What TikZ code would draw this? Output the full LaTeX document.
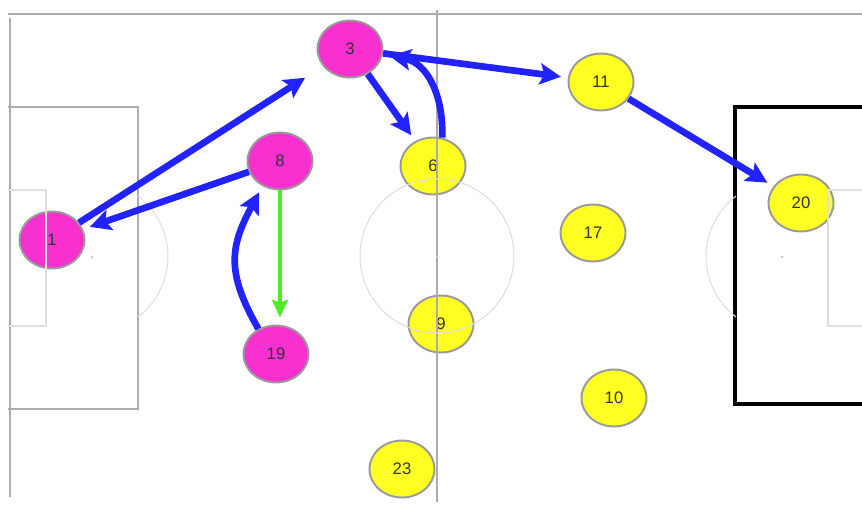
\documentclass[tikz,border=0pt]{standalone}
\usepackage{fontspec}
\setmainfont{Liberation Sans}
\usetikzlibrary{arrows.meta,shapes.geometric}
\definecolor{mag}{RGB}{248,48,208}
\definecolor{yel}{RGB}{255,255,34}
\definecolor{passblue}{RGB}{34,34,255}
\definecolor{passgreen}{RGB}{80,235,40}

\begin{document}
\begin{tikzpicture}[x=0.02cm,y=-0.02cm,
    player/.style={ellipse,draw=gray!80,line width=1.1pt,minimum width=1.3cm,minimum height=1.14cm,inner sep=0pt,text=black!80,font=\fontsize{9.5}{11}\selectfont},
    pitch/.style={gray!65,line width=1.1pt},
    faint/.style={gray!25,line width=0.6pt},
    pass/.style={passblue,line width=3.8pt,-{Stealth[length=12pt,width=12pt,inset=2.5pt]},shorten >=4pt}]
        \useasboundingbox (0,0) rectangle (862,507);
        \foreach \n/\x/\y/\c in {1/52/240/mag,3/350/49/mag,8/280/161/mag,19/276/354/mag,6/433/166/yel,11/601/82/yel,17/593/233/yel,9/441/324/yel,10/614/398/yel,20/801/203/yel,23/402/469/yel} {
            \node [player,fill=\c] (p\n) at (\x,\y) {\n}; % players
        }
        \draw[pitch] (8,14) -- (862,14); % touchline
        \draw[pitch] (10,18) -- (10,497); % goal line
        \draw[pitch] (437,10) -- (437,502); % halfway line
        \draw[pitch] (8,107) -- (138,107) -- (138,409) -- (8,409); % left penalty box
        \draw[black,line width=2.2pt] (862,107) -- (735,107) -- (735,404) -- (862,404); % right penalty box
        \draw[faint] (8,190) -- (46,190) -- (46,326) -- (8,326);
        \draw[faint] (862,190) -- (828,190) -- (828,326) -- (862,326);
        \draw[faint] (437,256) circle (77); % centre circle
        \draw[faint] (138,196) arc[start angle=-52.7,end angle=52.7,radius=76];
        \draw[faint] (736,196) arc[start angle=232.7,end angle=127.3,radius=76];
        \foreach \x in {92,437,782} {
            \fill[gray!40] (\x,257) circle (1.5); % spots
        }
        \draw[pass,shorten >=12pt] (p1) -- (p3);
        \draw[pass] (p8) -- (p1);
        \draw[pass] (p3) -- (p6);
        \draw[pass] (p6.72) to[out=88,in=-10,looseness=1.1] (p3.-10);
        \draw[pass] (p3) -- (p11);
        \draw[pass] (p11) -- (p20);
        \draw[pass] (p19.125) to[out=120,in=-118,looseness=1.2] (p8.235);
        \draw[passgreen,line width=2.5pt,-{Stealth[length=10pt,width=9pt,inset=1.5pt]},shorten >=4pt] (p8) -- (p8 |- p19.north);
    \end{tikzpicture}
\end{document}
